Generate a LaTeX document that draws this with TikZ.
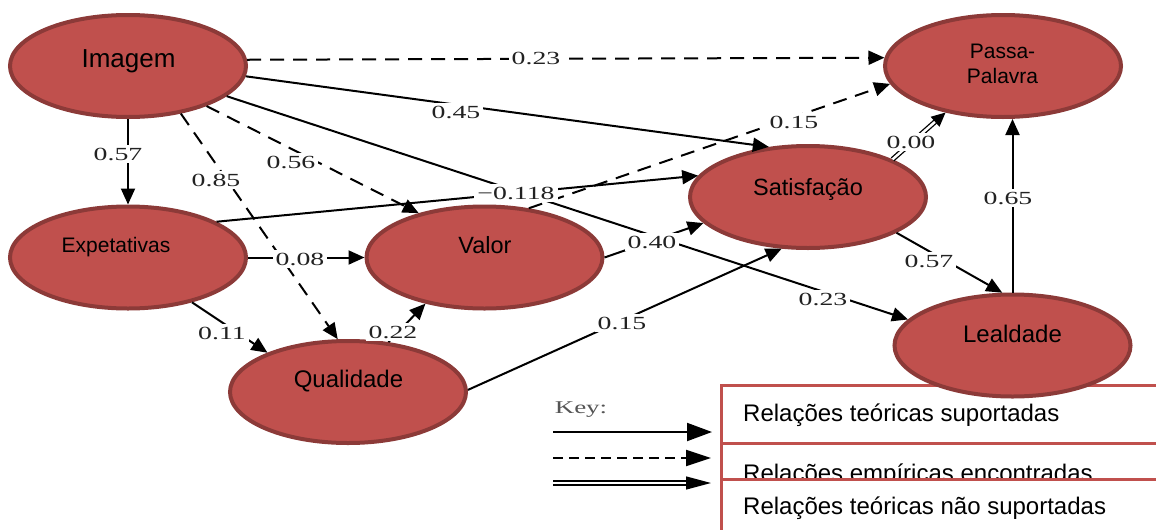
\documentclass[tikz,border=0pt]{standalone}
\usepackage{fontspec}
\setmainfont{Liberation Sans}
\newfontfamily\numfont[FakeStretch=1.5]{Liberation Serif}
\usetikzlibrary{arrows.meta,shapes.geometric}
\definecolor{efill}{HTML}{C0504D}
\definecolor{eborder}{RGB}{140,58,56}
\definecolor{lblgray}{HTML}{222222}
\definecolor{keygray}{HTML}{555555}
\begin{document}
\begin{tikzpicture}[x=1pt,y=-1pt,
  construct/.style={ellipse, fill=efill, draw=eborder, line width=4pt,
    minimum width=236pt, minimum height=102pt, inner sep=0pt},
  ctext/.style={anchor=base, inner sep=0pt, align=center},
  thpath/.style={line width=2pt, -{Triangle[length=16pt,width=14pt]}},
  emppath/.style={thpath, dash pattern=on 14pt off 9pt},
  nspath/.style={line width=1.3pt, double, double distance=2.5pt,
    -{Triangle[length=14pt,width=13pt]}},
  coef/.style={fill=white, inner sep=3pt, text=lblgray,
    font=\numfont\fontsize{18.5}{18.5}\selectfont},
  legline/.style={draw=efill, line width=3pt},
  legtext/.style={anchor=base west, inner sep=0pt,
    font=\fontsize{24}{24}\selectfont}
]
\useasboundingbox (0,0) rectangle (1156,530);
\fill[white] (0,0) rectangle (1156,530);

% legend boxes
\node[legtext] (t1) at (743,421) {Relações teóricas suportadas};
\node[legtext] (t2) at (743,481) {Relações empíricas encontradas};
\fill[white] (721,479) rectangle (1156,530);
\node[legtext] (t3) at (743,514) {Relações teóricas não suportadas};
\draw[legline] (1156,385) -- (721,385) -- (721,530);
\draw[legline] (721,443) -- (1156,443);
\draw[legline] (721,479) -- (1156,479);

% key
\node[text=keygray, inner sep=0pt, font=\numfont\fontsize{18}{18}\selectfont] (key) at (581,410) {Key:};
\coordinate (k1a) at (553,432); \coordinate (k1b) at (712,432);
\coordinate (k2a) at (553,458); \coordinate (k2b) at (711,458);
\coordinate (k3a) at (553,483); \coordinate (k3b) at (711,483);
\draw[line width=2pt, -{Triangle[length=25pt,width=18pt]}] (k1a) -- (k1b);
\draw[line width=2pt, dash pattern=on 10pt off 6pt, -{Triangle[length=25pt,width=16pt]}] (k2a) -- (k2b);
\draw[line width=1.3pt, double, double distance=2.5pt, -{Triangle[length=25pt,width=13pt]}] (k3a) -- (k3b);

% constructs
\node[construct] (img) at (128,66) {};
\node[construct] (pp) at (1003,66) {};
\node[construct] (exp) at (128,257.5) {};
\node[construct] (val) at (484.5,257.5) {};
\node[construct] (sat) at (808,197) {};
\node[construct] (leal) at (1012.5,345.5) {};
\node[construct] (qual) at (348,392) {};

\node[ctext, font=\fontsize{26}{26}\selectfont] (imgt) at (128.5,67) {Imagem};
\node[ctext, font=\fontsize{21}{21}\selectfont] (ppt1) at (1002.5,58) {Passa-};
\node[ctext, font=\fontsize{21}{21}\selectfont] (ppt2) at (1002.5,83) {Palavra};
\node[ctext, font=\fontsize{21}{21}\selectfont] (expt) at (116,252) {Expetativas};
\node[ctext, font=\fontsize{23.5}{23.5}\selectfont] (valt) at (485,253) {Valor};
\node[ctext, font=\fontsize{23.5}{23.5}\selectfont] (satt) at (808,195) {Satisfação};
\node[ctext, font=\fontsize{24}{24}\selectfont] (lealt) at (1012.5,342) {Lealdade};
\node[ctext, font=\fontsize{24}{24}\selectfont] (qualt) at (348.5,387) {Qualidade};

% paths
\draw[emppath] (img.3.9) -- (pp.176.1);
\draw[thpath] (img.-5.9) -- (sat.128.8);
\draw[thpath] (img.-17.4) -- (leal.166.4);
\draw[emppath] (img.-27.7) -- (val.146.8);
\draw[emppath] (img.-42.2) -- (qual.101.5);
\draw[thpath] (img.south) -- (exp.north);
\draw[thpath] (exp.east) -- (val.west);
\draw[thpath] (exp.-35.4) -- (qual.154.3);
\draw[thpath] (exp.22.8) -- (sat.169.3);
\draw[thpath] (val.0.7) -- (sat.194.3);
\draw[emppath] (val.48.7) -- (pp.189.5);
\draw[thpath] (qual.51.3) -- (val.218.6);
\draw[thpath] (qual.1) -- (sat.243);
\draw[nspath] (sat.24.3) -- (pp.219);
\draw[thpath] (sat.-22.4) -- (leal.101.1);
\draw[thpath] (leal.north) -- (leal.north |- pp.south);

% coefficients
\node[coef] (c1) at (536,58) {0.23};
\node[coef] (c2) at (456,112) {0.45};
\node[coef] (c3) at (794,122) {0.15};
\node[coef] (c4) at (911,142) {0.00};
\node[coef] (c5) at (1008,198) {0.65};
\node[coef] (c6) at (118,154) {0.57};
\node[coef] (c7) at (216,180) {0.85};
\node[coef] (c8) at (291,162) {0.56};
\node[coef] (c9) at (516,193) {−0.118};
\node[coef] (c10) at (300,259) {0.08};
\node[coef] (c11) at (222,333) {0.11};
\node[coef] (c12) at (393,332) {0.22};
\node[coef] (c13) at (652,242) {0.40};
\node[coef] (c14) at (622,323) {0.15};
\node[coef] (c15) at (929,261) {0.57};
\node[coef] (c16) at (823,299) {0.23};
\end{tikzpicture}
\end{document}
